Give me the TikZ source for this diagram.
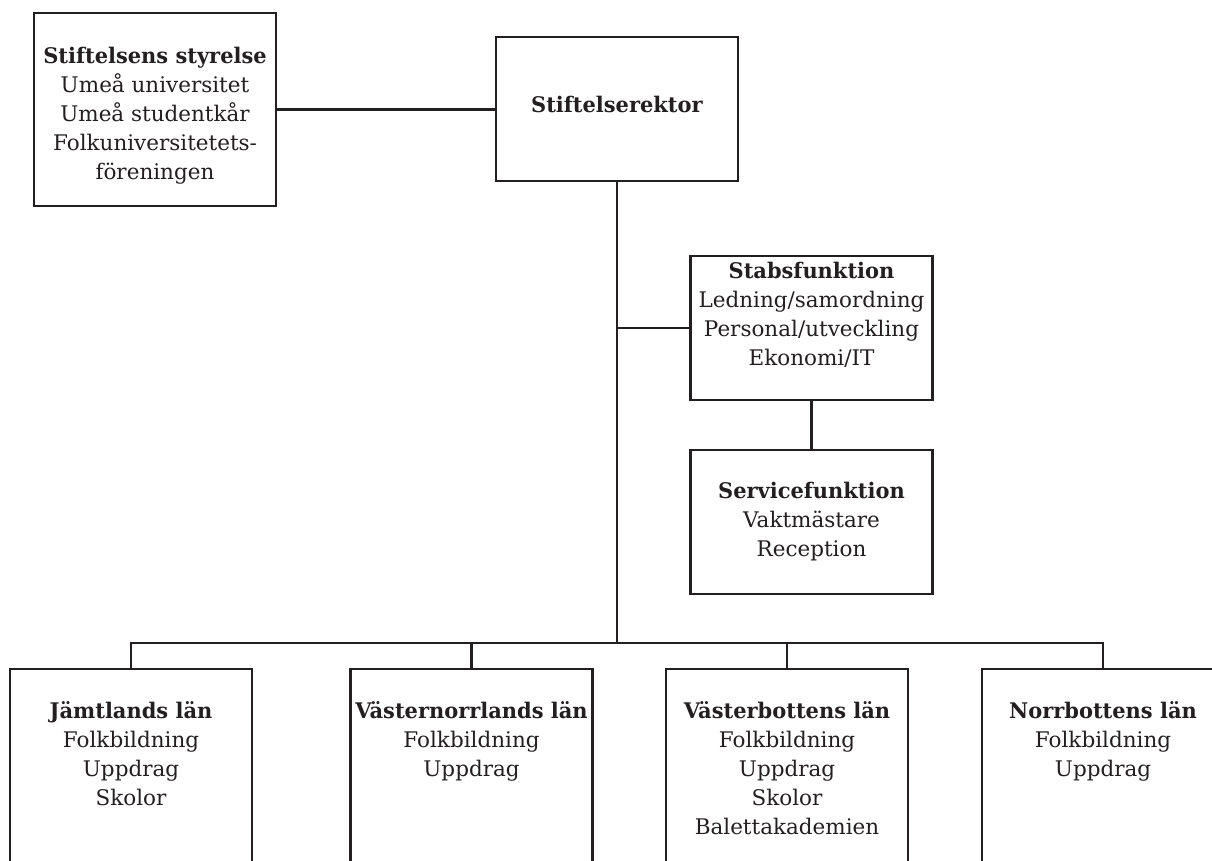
\documentclass[tikz,border=0pt]{standalone}
\usepackage{fontspec}
\setmainfont{DejaVu Serif}[BoldFeatures={FakeStretch=0.975}]
\definecolor{ink}{HTML}{231F20}
\tikzset{
  box/.style={draw=ink, line width=2.6pt, minimum width=242pt, minimum height=#1, inner sep=0pt},
  lbl/.style={anchor=north, align=center, inner sep=0pt, text=ink,
    font=\fontsize{21.5}{29}\selectfont, execute at begin node={\rule{0pt}{20pt}}},
  conn/.style={draw=ink, line width=2.3pt}
}
\begin{document}
\begin{tikzpicture}[x=1pt,y=-1pt]
\useasboundingbox (0,0) rectangle (1212,860);
\clip (0,0) rectangle (1212,860);
% boxes
\node[box=193pt] (styr) at (155,109.5) {};
\node[box=144pt] (rekt) at (617,109) {};
\node[box=144pt] (stabs) at (811.5,328) {};
\node[box=144pt] (serv) at (811.5,522) {};
\node[box=230pt] (jamt) at (131,784) {};
\node[box=230pt] (vnorr) at (471.5,784) {};
\node[box=230pt] (vbott) at (787,784) {};
\node[box=230pt] (norr) at (1103,784) {};
% texts
\node[lbl] (styr-t) at (155,47) {\textbf{Stiftelsens styrelse}\\Umeå universitet\\Umeå studentkår\\Folkuniversitetets-\\föreningen};
\node[lbl] (rekt-t) at (617,92) {\textbf{Stiftelserektor}};
\node[lbl] (stabs-t) at (811.5,262) {\textbf{Stabsfunktion}\\Ledning/samordning\\Personal/utveckling\\Ekonomi/IT};
\node[lbl] (serv-t) at (811.5,482) {\textbf{Servicefunktion}\\Vaktmästare\\Reception};
\node[lbl] (jamt-t) at (131,701) {\textbf{Jämtlands län}\\Folkbildning\\Uppdrag\\Skolor};
\node[lbl] (vnorr-t) at (471.5,701) {\textbf{Västernorrlands län}\\Folkbildning\\Uppdrag};
\node[lbl] (vbott-t) at (787,701) {\textbf{Västerbottens län}\\Folkbildning\\Uppdrag\\Skolor\\Balettakademien};
\node[lbl] (norr-t) at (1103,701) {\textbf{Norrbottens län}\\Folkbildning\\Uppdrag};
% connectors
\coordinate (bus) at (617,643);
\draw[conn] (styr.east) -- (styr.east -| rekt.west);
\draw[conn] (rekt.south) -- (bus);
\draw[conn] (stabs.west -| rekt.south) -- (stabs.west);
\draw[conn] (stabs.south) -- (serv.north);
\draw[conn] (jamt.north) |- (bus) -| (norr.north);
\draw[conn] (vnorr.north) -- (vnorr.north |- bus);
\draw[conn] (vbott.north) -- (vbott.north |- bus);
\end{tikzpicture}
\end{document}
